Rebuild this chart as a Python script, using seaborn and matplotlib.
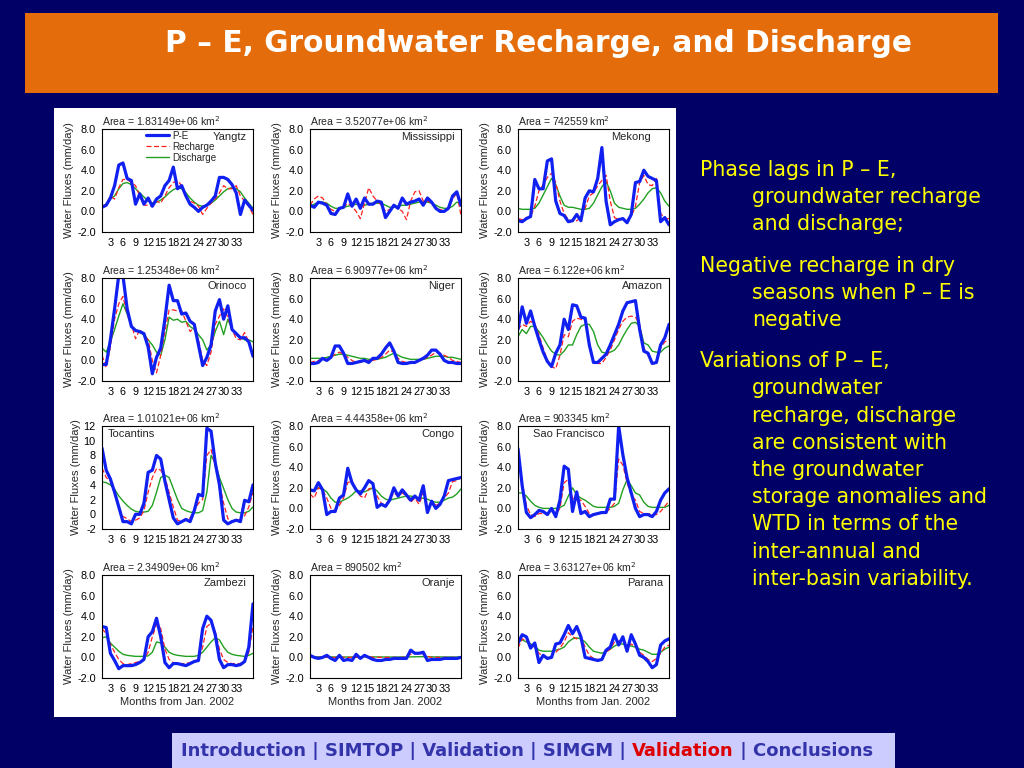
import matplotlib
matplotlib.use("Agg")
import matplotlib.pyplot as plt
from matplotlib.patches import Rectangle
import seaborn as sns

# months since Jan 2002 (x axis)
months = list(range(1, 38))
month_ticks = [3, 6, 9, 12, 15, 18, 21, 24, 27, 30, 33]

basin_names = ["Yangtz", "Mississippi", "Mekong", "Orinoco", "Niger", "Amazon",
               "Tocantins", "Congo", "Sao Francisco", "Zambezi", "Oranje", "Parana"]
basin_areas = ["1.83149e+06", "3.52077e+06", "742559", "1.25348e+06", "6.90977e+06", "6.122e+06",
               "1.01021e+06", "4.44358e+06", "903345", "2.34909e+06", "890502", "3.63127e+06"]

# values (mm/day)
yangtz_pe = [0.4, 0.6, 1.3, 2.5, 4.5, 4.7, 3.2, 3.0, 0.7, 1.7, 0.7, 1.3, 0.5, 1.2, 1.5, 2.5, 3.0, 4.3, 2.2,
             2.5, 1.5, 0.7, 0.4, 0.0, 0.4, 0.6, 1.0, 1.5, 3.3, 3.3, 3.1, 2.6, 1.8, -0.3, 1.1, 0.6, 0.1]
yangtz_rech = [0.5, 0.7, 1.5, 1.2, 2.3, 3.1, 3.1, 2.8, 2.5, 1.5, 0.6, 0.6, 0.5, 1.0, 0.8, 1.5, 2.3, 2.8, 3.0,
               2.5, 1.5, 1.0, 0.8, 0.5, -0.3, 0.3, 0.8, 1.2, 1.8, 2.5, 2.2, 2.2, 2.5, 1.5, 1.0, 0.5, -0.3]
yangtz_disc = [0.5, 0.7, 1.2, 1.5, 2.2, 2.7, 2.8, 2.6, 2.2, 1.8, 1.4, 1.0, 0.8, 0.9, 1.1, 1.4, 1.8, 2.1, 2.3,
               2.2, 1.8, 1.3, 0.9, 0.6, 0.5, 0.6, 0.8, 1.1, 1.5, 1.9, 2.2, 2.3, 2.2, 1.9, 1.3, 0.8, 0.3]

miss_pe = [0.6, 0.4, 0.9, 0.8, 0.6, -0.2, -0.3, 0.3, 0.4, 1.7, 0.5, 1.2, 0.3, 1.3, 0.7, 0.7, 1.0, 0.9, -0.6,
           0.0, 0.6, 0.3, 1.3, 0.7, 0.9, 1.0, 1.2, 0.6, 1.3, 0.9, 0.3, 0.0, 0.0, 0.3, 1.5, 1.9, 0.6]
miss_rech = [0.6, 1.2, 1.5, 1.3, 0.7, 0.2, 0.0, 0.2, 0.4, 0.8, 0.5, 0.0, -0.7, 0.8, 2.3, 1.5, 1.0, 0.6, 0.0,
             0.2, 0.5, 0.3, 0.0, -0.8, 1.0, 1.9, 2.0, 1.0, 1.0, 0.8, 0.4, 0.2, 0.0, 0.4, 1.2, 1.8, -0.4]
miss_disc = [0.5, 0.7, 0.9, 0.9, 0.8, 0.5, 0.3, 0.3, 0.4, 0.5, 0.6, 0.7, 0.6, 0.6, 0.7, 0.8, 0.8, 0.8, 0.6,
             0.4, 0.4, 0.5, 0.6, 0.6, 0.7, 0.8, 0.9, 0.9, 0.9, 0.8, 0.6, 0.4, 0.3, 0.3, 0.5, 0.9, 0.8]

mekong_pe = [-0.9, -1.0, -0.7, -0.5, 3.1, 2.2, 2.2, 4.9, 5.1, 1.0, -0.2, -0.4, -1.0, -0.9, -0.3, -0.9, 1.3,
             2.0, 1.9, 3.2, 6.2, 1.0, -1.3, -1.0, -0.8, -0.7, -1.1, -0.3, 2.8, 2.9, 4.0, 3.4, 3.2, 3.0,
             -1.0, -0.6, -1.3]
mekong_rech = [-0.7, -0.8, -0.6, -0.5, 0.5, 2.0, 2.6, 3.3, 3.7, 2.8, 1.0, -0.2, -0.8, -1.0, -0.9, -0.6, 0.3,
               1.5, 1.8, 2.5, 3.0, 3.5, 1.0, -0.6, -0.8, -0.7, -0.8, -0.5, 0.5, 2.8, 3.5, 2.6, 2.5, 3.2,
               -0.2, -0.7, -0.7]
mekong_disc = [0.3, 0.2, 0.2, 0.2, 0.3, 0.8, 1.6, 2.4, 3.2, 2.6, 1.5, 0.6, 0.4, 0.4, 0.3, 0.2, 0.2, 0.3, 0.8,
               1.6, 2.4, 2.9, 2.0, 0.8, 0.4, 0.3, 0.2, 0.2, 0.3, 0.7, 1.2, 1.8, 2.2, 2.3, 1.8, 1.0, 0.5]

orinoco_pe = [-0.4, -0.4, 2.0, 5.0, 8.3, 8.2, 5.0, 3.3, 2.9, 2.8, 2.6, 1.3, -1.3, 0.3, 1.2, 4.0, 7.3, 5.8,
              5.8, 4.5, 4.6, 3.8, 3.5, 1.5, -0.5, 0.3, 1.5, 4.8, 5.9, 4.0, 5.3, 3.0, 2.6, 2.2, 2.2, 1.8, 0.4]
orinoco_rech = [0.5, -0.7, 1.3, 4.0, 5.5, 6.2, 4.5, 3.5, 2.1, 3.0, 2.5, 2.0, 0.0, -1.2, 0.5, 2.8, 4.9, 4.9,
                4.8, 4.8, 3.8, 2.8, 3.2, 2.0, 0.0, -0.5, 0.8, 3.5, 4.3, 5.0, 4.2, 3.0, 2.1, 2.0, 2.7, 1.8, 0.5]
orinoco_disc = [1.2, 0.8, 1.8, 3.0, 4.3, 5.5, 4.5, 3.3, 3.0, 2.7, 2.5, 2.0, 1.5, 0.8, 0.5, 2.0, 4.2, 3.9,
                4.0, 3.7, 3.8, 3.3, 3.0, 2.5, 2.0, 1.0, 1.5, 2.8, 3.8, 2.5, 4.0, 3.0, 2.5, 2.2, 2.0, 2.0, 1.8]

niger_pe = [-0.3, -0.3, -0.2, 0.2, 0.0, 0.3, 1.4, 1.4, 0.7, -0.3, -0.3, -0.2, -0.1, 0.0, -0.2, 0.2, 0.2, 0.6,
            1.2, 1.7, 0.9, -0.2, -0.3, -0.3, -0.2, -0.2, 0.0, 0.2, 0.5, 1.0, 1.0, 0.6, 0.0, -0.2, -0.2,
            -0.3, -0.3]
niger_rech = [-0.2, -0.1, 0.0, 0.1, 0.1, 0.3, 0.6, 0.8, 0.6, 0.3, 0.0, -0.2, -0.2, -0.1, 0.0, 0.0, 0.1, 0.3,
              0.6, 1.0, 0.8, 0.2, -0.1, -0.2, -0.2, -0.1, 0.0, 0.1, 0.3, 0.5, 0.8, 0.7, 0.5, 0.3, 0.0,
              -0.1, -0.2]
niger_disc = [0.2, 0.2, 0.2, 0.2, 0.3, 0.4, 0.5, 0.6, 0.6, 0.5, 0.4, 0.3, 0.2, 0.2, 0.1, 0.1, 0.1, 0.2, 0.3,
              0.5, 0.7, 0.5, 0.3, 0.2, 0.1, 0.1, 0.1, 0.1, 0.2, 0.3, 0.4, 0.4, 0.4, 0.3, 0.3, 0.2, 0.1]

amazon_pe = [3.0, 5.2, 3.6, 4.8, 3.3, 2.0, 0.8, -0.1, -0.6, 0.7, 1.5, 4.0, 3.0, 5.4, 5.3, 4.2, 4.1, 1.5, -0.2,
             -0.2, 0.2, 0.6, 1.5, 2.5, 3.5, 4.8, 5.6, 5.7, 5.8, 3.0, 0.9, 0.7, -0.3, -0.2, 1.5, 2.2, 3.5]
amazon_rech = [3.0, 3.5, 3.3, 3.8, 3.5, 2.5, 1.2, 0.0, -0.6, -0.8, 0.5, 2.5, 2.3, 3.8, 4.1, 4.0, 3.8, 1.8,
               -0.1, -0.3, -0.3, 0.3, 1.0, 2.0, 3.0, 3.8, 4.2, 4.3, 4.2, 3.5, 1.2, 0.5, -0.4, -0.2, 1.2, 1.8,
               2.0]
amazon_disc = [2.3, 3.0, 2.6, 3.3, 3.3, 2.8, 2.2, 1.5, 0.9, 0.6, 0.5, 0.9, 1.5, 1.5, 2.5, 3.3, 3.5, 3.5, 2.8,
               1.5, 0.8, 0.7, 0.8, 1.0, 1.5, 2.3, 3.0, 3.6, 3.7, 3.3, 1.7, 1.5, 0.9, 0.8, 0.8, 1.2, 1.4]

tocantins_pe = [9.0, 6.0, 4.8, 3.0, 1.0, -1.0, -1.0, -1.3, 0.0, 0.0, 1.5, 5.7, 6.0, 8.0, 7.5, 4.5, 2.0, -0.5,
                -1.3, -1.0, -0.7, -1.0, 0.5, 2.7, 2.5, 11.7, 11.3, 7.0, 4.0, -0.8, -1.3, -1.0, -0.8, -1.0,
                1.9, 1.7, 4.0]
tocantins_rech = [6.3, 5.0, 4.5, 3.0, 1.0, -0.3, -0.6, -1.0, -0.8, -0.5, 0.5, 3.0, 5.0, 6.2, 6.0, 5.0, 3.0,
                  1.0, -0.8, -1.0, -0.8, -0.5, 0.5, 1.5, 2.0, 8.0, 8.8, 6.5, 4.2, 1.5, -0.6, -1.0, -0.8,
                  -0.7, -0.2, 1.0, 3.0]
tocantins_disc = [4.4, 4.3, 4.0, 3.4, 2.5, 1.8, 1.2, 0.7, 0.4, 0.3, 0.3, 0.4, 1.2, 3.0, 5.0, 5.3, 5.0, 3.5,
                  2.0, 0.8, 0.5, 0.3, 0.2, 0.2, 0.5, 3.0, 8.0, 7.0, 5.0, 3.5, 2.0, 0.8, 0.3, 0.2, 0.2, 0.4,
                  1.0]

congo_pe = [1.8, 1.7, 2.5, 1.8, -0.6, -0.3, -0.3, 1.0, 1.3, 3.9, 2.5, 1.8, 1.4, 2.0, 2.7, 2.4, 0.1, 0.4, 0.2,
            0.8, 2.0, 1.2, 1.8, 1.3, 0.8, 1.2, 0.8, 2.2, -0.4, 0.7, 0.0, 0.4, 1.2, 2.7, 2.8, 2.9, 3.0]
congo_rech = [1.4, 1.0, 2.0, 1.8, 1.0, 0.0, -0.2, 0.3, 1.0, 2.5, 2.7, 1.8, 1.2, 1.0, 1.9, 2.0, 1.2, 0.5,
              0.3, 0.9, 1.5, 1.2, 1.5, 1.2, 0.6, 1.0, 0.4, 1.5, 0.0, 0.6, 0.3, 0.5, 1.0, 1.5, 2.6, 2.7, 3.0]
congo_disc = [1.7, 1.8, 2.0, 1.9, 1.6, 1.0, 0.6, 0.6, 0.8, 1.0, 1.3, 1.7, 1.7, 1.6, 1.8, 2.0, 1.7, 1.2, 0.9,
              0.8, 0.9, 1.0, 1.1, 1.2, 1.2, 1.1, 1.0, 1.0, 0.9, 0.7, 0.6, 0.6, 0.8, 1.0, 1.1, 1.4, 1.9]

saofr_pe = [5.8, 2.2, -0.4, -0.9, -0.6, -0.2, -0.3, -0.6, 0.0, -0.8, 0.8, 4.1, 3.8, -0.3, 1.6, -0.5, -0.3,
            -0.8, -0.6, -0.5, -0.4, -0.4, 0.9, 0.9, 8.0, 5.2, 3.0, 1.5, 0.0, -0.8, -0.6, -0.6, -0.8, -0.3,
            0.8, 1.5, 1.9]
saofr_rech = [5.0, 2.5, 0.3, -0.6, -0.8, -0.5, -0.5, -0.5, -0.3, -0.6, 0.0, 2.5, 2.8, 1.0, 0.8, 0.8, 0.2,
              -0.5, -0.6, -0.5, -0.4, -0.4, 0.0, 0.5, 4.8, 4.2, 2.5, 1.3, 0.8, -0.3, -0.5, -0.5, -0.6, -0.6,
              -0.3, 0.2, 0.7]
saofr_disc = [1.5, 1.5, 1.2, 0.7, 0.3, 0.1, 0.0, 0.0, 0.0, 0.0, 0.1, 0.3, 1.2, 2.0, 1.3, 1.0, 0.8, 0.5, 0.2,
              0.1, 0.1, 0.1, 0.1, 0.2, 0.5, 1.8, 2.8, 2.2, 1.5, 1.3, 0.6, 0.2, 0.1, 0.1, 0.1, 0.1, 0.3]

zambezi_pe = [3.0, 2.9, 0.4, -0.3, -1.1, -0.8, -0.8, -0.8, -0.7, -0.5, -0.2, 2.0, 2.5, 3.8, 2.0, -0.5, -1.0,
              -0.6, -0.6, -0.7, -0.8, -0.6, -0.4, -0.3, 2.8, 4.0, 3.6, 2.2, -0.2, -1.0, -0.7, -0.7, -0.8,
              -0.7, -0.4, 1.0, 5.2]
zambezi_rech = [2.8, 2.3, 1.3, 0.5, -0.2, -0.6, -0.7, -0.6, -0.5, -0.4, -0.2, 0.5, 2.0, 3.2, 2.8, 0.8,
                -0.2, -0.5, -0.6, -0.6, -0.6, -0.5, -0.4, -0.2, 1.0, 3.0, 3.3, 2.5, 0.8, -0.2, -0.5, -0.6,
                -0.6, -0.6, -0.4, 0.5, 3.0]
zambezi_disc = [1.9, 2.0, 1.4, 1.0, 0.6, 0.3, 0.2, 0.15, 0.1, 0.1, 0.1, 0.15, 0.5, 1.5, 1.4, 1.0, 0.5, 0.3,
                0.2, 0.15, 0.1, 0.1, 0.1, 0.2, 0.5, 1.0, 1.5, 1.9, 1.7, 1.0, 0.5, 0.3, 0.2, 0.15, 0.1, 0.2,
                0.4]

oranje_pe = [0.2, 0.0, -0.1, 0.0, 0.2, -0.1, -0.3, 0.2, -0.3, -0.2, -0.3, 0.3, -0.1, 0.2, 0.0, -0.2, -0.3,
             -0.3, -0.2, -0.2, -0.1, -0.1, -0.1, -0.1, 0.7, 0.4, 0.4, 0.5, -0.3, -0.2, -0.2, -0.2, -0.1,
             -0.1, -0.1, -0.1, 0.0]
oranje_rech = [0.1, 0.1, 0.0, 0.0, 0.0, 0.0, 0.0, 0.0, 0.0, 0.0, 0.0, 0.0, 0.0, 0.1, 0.1, 0.0, 0.0, 0.0,
               0.0, 0.0, 0.0, 0.0, 0.0, 0.1, 0.3, 0.4, 0.5, 0.3, 0.1, 0.0, 0.0, 0.0, 0.0, 0.0, 0.0, 0.0, 0.0]
oranje_disc = [0.05, 0.05, 0.05, 0.05, 0.05, 0.05, 0.04, 0.04, 0.04, 0.04, 0.04, 0.04, 0.04, 0.05, 0.05,
               0.05, 0.05, 0.04, 0.04, 0.04, 0.04, 0.04, 0.04, 0.04, 0.05, 0.06, 0.07, 0.07, 0.06, 0.05,
               0.05, 0.05, 0.04, 0.04, 0.04, 0.04, 0.04]

parana_pe = [1.4, 2.2, 2.0, 0.9, 1.4, -0.5, 0.2, -0.1, 0.0, 1.3, 1.4, 2.2, 3.1, 2.3, 3.0, 2.0, 0.0, -0.1,
             -0.2, -0.3, -0.2, 0.7, 1.0, 2.2, 1.2, 2.0, 0.6, 2.2, 1.3, 0.2, 0.0, -0.4, -1.0, -0.7, 1.2, 1.6, 1.8]
parana_rech = [0.9, 1.8, 1.6, 1.2, 1.0, 0.4, 0.1, 0.0, 0.1, 0.5, 0.9, 1.5, 2.4, 2.0, 1.8, 2.0, 1.0, 0.2,
               -0.1, -0.2, -0.2, 0.5, 0.8, 1.5, 1.6, 1.5, 1.0, 1.3, 1.0, 0.5, 0.2, -0.2, -0.4, -0.1, 0.4,
               1.0, 1.2]
parana_disc = [1.5, 1.7, 1.5, 1.3, 1.1, 0.7, 0.6, 0.6, 0.6, 0.7, 0.8, 1.0, 1.5, 1.8, 1.9, 1.8, 1.5, 1.0, 0.6,
               0.5, 0.4, 0.6, 0.8, 1.1, 1.3, 1.3, 1.2, 1.1, 1.0, 0.8, 0.7, 0.5, 0.3, 0.3, 0.5, 0.8, 1.0]

pe_series = [yangtz_pe, miss_pe, mekong_pe, orinoco_pe, niger_pe, amazon_pe,
             tocantins_pe, congo_pe, saofr_pe, zambezi_pe, oranje_pe, parana_pe]
rech_series = [yangtz_rech, miss_rech, mekong_rech, orinoco_rech, niger_rech, amazon_rech,
               tocantins_rech, congo_rech, saofr_rech, zambezi_rech, oranje_rech, parana_rech]
disc_series = [yangtz_disc, miss_disc, mekong_disc, orinoco_disc, niger_disc, amazon_disc,
               tocantins_disc, congo_disc, saofr_disc, zambezi_disc, oranje_disc, parana_disc]

bullets = [
    ["Phase lags in P \u2013 E,", "groundwater recharge", "and discharge;"],
    ["Negative recharge in dry", "seasons when P \u2013 E is", "negative"],
    ["Variations of P \u2013 E,", "groundwater", "recharge, discharge", "are consistent with",
     "the groundwater", "storage anomalies and", "WTD in terms of the", "inter-annual and",
     "inter-basin variability."],
]

W, H = 1024, 768
sns.set_style("white")
plt.rcParams['font.family'] = ['DejaVu Sans']

fig = plt.figure(figsize=(W / 100, H / 100), dpi=100)
fig.patch.set_facecolor('#000066')


def frac(x0, y0, w, h):
    return [x0 / W, 1 - (y0 + h) / H, w / W, h / H]


def rect(x0, y0, w, h, color):
    fig.add_artist(Rectangle((x0 / W, 1 - (y0 + h) / H), w / W, h / H,
                             transform=fig.transFigure, facecolor=color, edgecolor='none', zorder=0))


# title bar, white plot panel, nav bar
rect(25, 13, 973, 80, '#E46C0A')
rect(54, 108, 622, 609, 'white')
rect(172, 733, 723, 40, '#CCCCFF')

fig.text(165 / W, 1 - 44 / H, "P \u2013 E, Groundwater Recharge, and Discharge",
         color='white', fontsize=21.3, fontweight='bold', ha='left', va='center')

# panels
col_left = [102, 310, 518]
row_top = [129, 278, 426, 575]
name_pos = [(0.96, 'right'), (0.96, 'right'), (0.88, 'right'), (0.96, 'right'), (0.96, 'right'),
            (0.96, 'right'), (0.04, 'left'), (0.96, 'right'), (0.1, 'left'), (0.96, 'right'),
            (0.96, 'right'), (0.96, 'right')]

panel_font = ['Liberation Sans', 'DejaVu Sans']
for i in range(12):
    r, c = divmod(i, 3)
    ax = fig.add_axes(frac(col_left[c], row_top[r], 151, 103))
    ax.set_facecolor('white')
    sns.lineplot(x=months, y=disc_series[i], ax=ax, color='#22A022', linewidth=1.0, label='Discharge')
    sns.lineplot(x=months, y=rech_series[i], ax=ax, color='#FF2020', linewidth=0.9,
                 dashes=False, label='Recharge').lines[-1].set_dashes([4, 2])
    sns.lineplot(x=months, y=pe_series[i], ax=ax, color='#1020F0', linewidth=2.3, label='P-E')
    ax.set_xlim(1, 37)
    ax.set_xticks(month_ticks)
    if basin_names[i] == "Tocantins":
        ax.set_ylim(-2, 12)
        ax.set_yticks([-2, 0, 2, 4, 6, 8, 10, 12])
        ax.set_yticklabels([str(v) for v in [-2, 0, 2, 4, 6, 8, 10, 12]])
    else:
        ax.set_ylim(-2, 8)
        ax.set_yticks([-2, 0, 2, 4, 6, 8])
        ax.set_yticklabels(["%.1f" % v for v in [-2, 0, 2, 4, 6, 8]])
    for s in ax.spines.values():
        s.set_color('black')
        s.set_linewidth(0.8)
    ax.tick_params(axis='both', direction='out', length=3, width=0.7, pad=1.5,
                   labelsize=7.8, colors='black')
    for lab in ax.get_xticklabels() + ax.get_yticklabels():
        lab.set_family(panel_font)
    ax.set_ylabel("Water Fluxes (mm/day)", fontsize=8, family=panel_font, labelpad=2)
    if r == 3:
        ax.set_xlabel("Months from Jan. 2002", fontsize=8, family=panel_font, labelpad=2)
    else:
        ax.set_xlabel("")
    ax.set_title("Area = %s km$^2$" % basin_areas[i], loc='left', fontsize=7.6,
                 family=panel_font, pad=2)
    nx, nha = name_pos[i]
    ax.text(nx, 0.975, basin_names[i], transform=ax.transAxes, ha=nha, va='top',
            fontsize=8, family=panel_font)
    if i == 0:
        h, l = ax.get_legend_handles_labels()
        ax.legend(h[::-1], l[::-1], loc='upper left', bbox_to_anchor=(0.25, 1.04), frameon=False,
                  handlelength=2.4, labelspacing=0.1, borderaxespad=0.2,
                  prop={'family': panel_font, 'size': 7.1}, handletextpad=0.3)
    else:
        ax.get_legend().remove()

# right-hand notes
y = 170
for block in bullets:
    for j, line in enumerate(block):
        fig.text((700 if j == 0 else 752) / W, 1 - y / H, line, color='#FFFF00',
                 fontsize=14.8, ha='left', va='center')
        y += 27.2
    y += 14

# nav bar with one item highlighted
nav_parts = [("Introduction | SIMTOP | Validation | SIMGM | ", '#3333AA'),
             ("Validation", '#DD0000'), (" | Conclusions", '#3333AA')]
fig.canvas.draw()
renderer = fig.canvas.get_renderer()
x = 181
for txt, col in nav_parts:
    t = fig.text(x / W, 1 - 751 / H, txt, color=col, fontsize=13, fontweight='bold',
                 ha='left', va='center')
    x += t.get_window_extent(renderer=renderer).width

fig.savefig("out.png", dpi=100, facecolor=fig.get_facecolor())
